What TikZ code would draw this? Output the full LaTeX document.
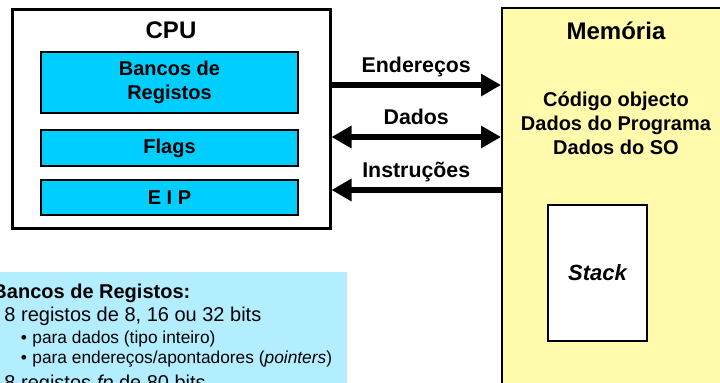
\documentclass[tikz,border=0pt]{standalone}
\usepackage{fontspec}
\setmainfont{Liberation Sans}
\usetikzlibrary{arrows.meta}

\definecolor{regcyan}{RGB}{0,206,255}
\definecolor{notecyan}{RGB}{178,238,255}
\definecolor{memyellow}{RGB}{255,250,172}

\tikzset{every picture/.style={line width=0.75pt}}
\tikzset{
  cpubox/.style={draw, line width=2.25pt, fill=white, minimum width=238.5pt, minimum height=164.25pt},
  regbox/.style={draw, line width=1.5pt, fill=regcyan, minimum width=192.75pt, inner sep=0pt,
    align=center, font=\fontsize{15}{17.5}\selectfont\bfseries},
  membox/.style={draw, line width=1.5pt, fill=memyellow, minimum width=178.5pt, minimum height=294pt},
  stackbox/.style={draw, line width=1.5pt, fill=white, minimum width=74.25pt, minimum height=102pt,
    font=\fontsize{16.5}{20}\selectfont\bfseries\itshape},
  notebox/.style={fill=notecyan, minimum width=260.25pt, minimum height=96pt, inner sep=0pt},
  title/.style={anchor=base, font=\fontsize{18}{21}\selectfont\bfseries},
  bus/.style={line width=4.5pt, >={Triangle[length=15pt,width=16pt]}},
  buslbl/.style={anchor=base, yshift=9.75pt, font=\fontsize{16}{19}\selectfont\bfseries},
  notehd/.style={anchor=base west, inner sep=0pt, font=\fontsize{15}{18}\selectfont\bfseries},
  notetx/.style={anchor=base west, inner sep=0pt, font=\fontsize{15}{18}\selectfont},
  notesub/.style={anchor=base west, inner sep=0pt, font=\fontsize{13}{16}\selectfont}
}

\begin{document}
\begin{tikzpicture}[x=0.75pt,y=0.75pt,yscale=-1,xscale=1]
\clip (0,0) rectangle (720,382);

% CPU
\node[cpubox] (cpu) at (171,118.5) {};
\node[title] (cpulbl) at (171,38.5) {CPU};
\node[regbox, minimum height=45.75pt] (banc) at (169.5,82.5) {Bancos de\\Registos};
\node[regbox, minimum height=27pt] (flags) at (169.5,148) {Flags};
\node[regbox, minimum height=26.25pt] (eip) at (169.5,197.5) {E I P};

% Memoria
\node[membox] (mem) at (621,204) {};
\node[title] (memlbl) at (616,39) {Memória};
\node[align=center, font=\fontsize{15}{18}\selectfont\bfseries] (memtxt) at (616,123) {Código objecto\\Dados do Programa\\Dados do SO};
\node[stackbox] (stack) at (597.5,273) {Stack};

% Barramentos
\draw[bus,->] (cpu.east |- 0,85) -- node[buslbl] (endlbl) {Endereços} (mem.west |- 0,85);
\draw[bus,<->] (cpu.east |- 0,137) -- node[buslbl] (dadlbl) {Dados} (mem.west |- 0,137);
\draw[bus,<-] (cpu.east |- 0,190) -- node[buslbl] (inslbl) {Instruções} (mem.west |- 0,190);

% Nota
\node[notebox] (note) at (173.5,336) {};
\node[notehd] (nt0) at (-8,298) {Bancos de Registos:};
\node[notetx] (nt1) at (4,321) {8 registos de 8, 16 ou 32 bits};
\node[notesub] (nt2) at (20.5,343) {•\hspace{4pt}para dados (tipo inteiro)};
\node[notesub] (nt3) at (20.5,363) {•\hspace{4pt}para endereços/apontadores (\textit{pointers})};
\node[notetx] (nt4) at (4,389) {8 registos \textit{fp} de 80 bits};

\end{tikzpicture}
\end{document}
